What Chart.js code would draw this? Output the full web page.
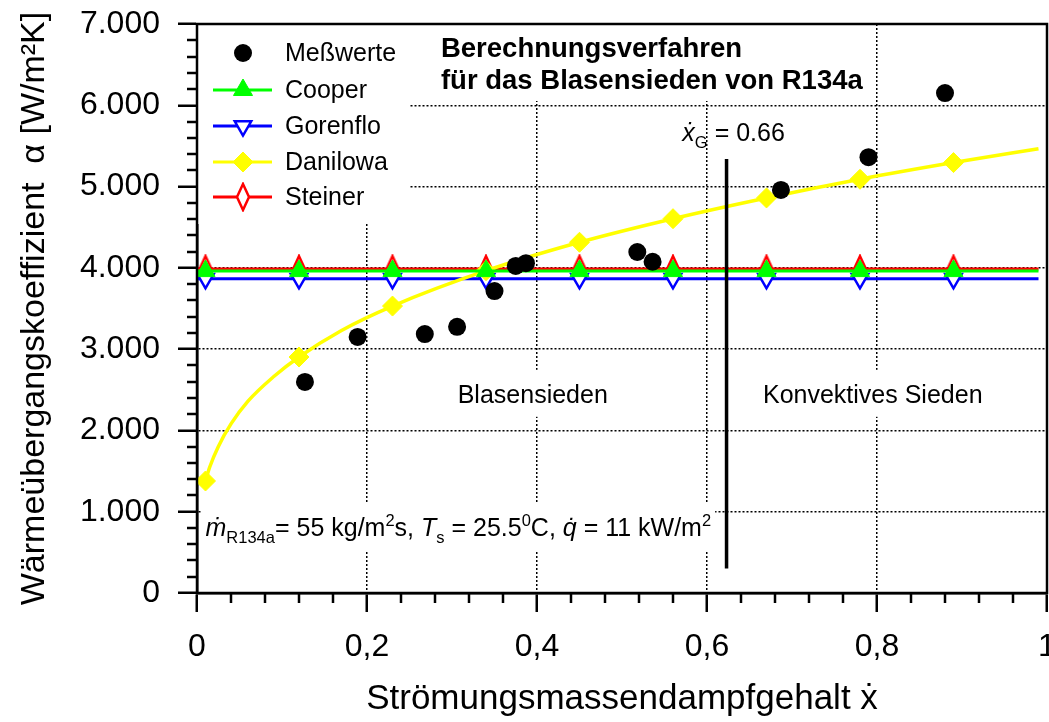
<!DOCTYPE html>
<html>
<head>
<meta charset="utf-8">
<script src="https://cdn.jsdelivr.net/npm/chart.js@4.4.0/dist/chart.umd.min.js"></script>
<style>
  html, body { margin: 0; padding: 0; background: #fff; }
  #wrap { width: 1049px; height: 722px; }
</style>
</head>
<body>
<div id="wrap"><canvas id="chart" width="1049" height="722"></canvas></div>
<script>
// Measured values
const messX = [0.127, 0.189, 0.268, 0.306, 0.350, 0.375, 0.387, 0.518, 0.536, 0.687, 0.790, 0.880];
const messY = [2596, 3150, 3185, 3275, 3715, 4023, 4058, 4195, 4075, 4958, 5362, 6150];

// Correlations, marker positions
const modelX = [0.01, 0.12, 0.23, 0.34, 0.45, 0.56, 0.67, 0.78, 0.89];
const cooperY = [3960, 3960, 3960, 3960, 3960, 3960, 3960, 3960, 3960];
const gorenfloY = [3865, 3865, 3865, 3865, 3865, 3865, 3865, 3865, 3865];
const steinerY = [3985, 3985, 3985, 3985, 3985, 3985, 3985, 3985, 3985];
const danilowaY = [1378, 2903, 3530, 3965, 4315, 4605, 4860, 5090, 5295];

// where the straight correlation lines start and end
const lineStartX = 0;
const lineEndX = 0.99;

// Danilowa fit curve
const danilowaCurveX = [0.01, 0.015, 0.025, 0.04, 0.06, 0.09, 0.12, 0.17, 0.23, 0.34, 0.45, 0.56, 0.67, 0.78, 0.89, 0.99];
const danilowaCurveY = [1378, 1550, 1800, 2080, 2360, 2660, 2903, 3230, 3530, 3965, 4315, 4605, 4860, 5090, 5295, 5465];

// transition line x_G
const xGLineX = [0.623, 0.623];
const xGLineY = [5340, 300];

const xTickLabels = ['0', '0,2', '0,4', '0,6', '0,8', '1'];
const yTickLabels = ['0', '1.000', '2.000', '3.000', '4.000', '5.000', '6.000', '7.000'];

const FONT = '"Liberation Sans", Arial, Helvetica, sans-serif';

function pts(xs, ys) {
  return xs.map((x, i) => ({ x: x, y: ys[i] }));
}

// constant line with markers, plain ends
function withEnds(xs, ys) {
  return [{ x: lineStartX, y: ys[0] }].concat(pts(xs, ys), [{ x: lineEndX, y: ys[ys.length - 1] }]);
}
function endRadius(r) {
  return [0].concat(modelX.map(() => r), [0]);
}

// narrow open diamond for Steiner
const steinerMark = document.createElement('canvas');
steinerMark.width = 16;
steinerMark.height = 30;
(function () {
  const c = steinerMark.getContext('2d');
  c.beginPath();
  c.moveTo(8, 2);
  c.lineTo(14, 15);
  c.lineTo(8, 28);
  c.lineTo(2, 15);
  c.closePath();
  c.fillStyle = '#fff';
  c.fill();
  c.lineWidth = 2.5;
  c.strokeStyle = '#ff0000';
  c.stroke();
})();

const datasets = [
  {
    label: 'Meßwerte', data: pts(messX, messY), showLine: false,
    pointStyle: 'circle', pointRadius: 9, backgroundColor: '#000', borderColor: '#000', borderWidth: 0,
    order: 0, legend: true, legendLine: false
  },
  {
    label: 'xG', data: pts(xGLineX, xGLineY), showLine: true,
    borderColor: '#000', borderWidth: 3.5, pointRadius: 0, order: 1
  },
  {
    label: 'Cooper', data: withEnds(modelX, cooperY), showLine: true,
    borderColor: '#00ff00', backgroundColor: '#00ff00', borderWidth: 3,
    pointStyle: 'triangle', pointRadius: endRadius(11), pointBackgroundColor: '#00ff00',
    pointBorderColor: '#00ff00', pointBorderWidth: 1, order: 2, legend: true, legendLine: true
  },
  {
    label: 'Gorenflo', data: withEnds(modelX, gorenfloY), showLine: true,
    borderColor: '#0000ff', backgroundColor: '#fff', borderWidth: 3,
    pointStyle: 'triangle', pointRotation: 180, pointRadius: endRadius(9.5), pointBackgroundColor: '#fff',
    pointBorderColor: '#0000ff', pointBorderWidth: 2.5, order: 5, legend: true, legendLine: true
  },
  {
    label: 'Danilowa', data: pts(modelX, danilowaY), showLine: false,
    borderColor: '#ffff00', backgroundColor: '#ffff00',
    pointStyle: 'rectRot', pointRadius: 10, pointBackgroundColor: '#ffff00',
    pointBorderColor: '#ffff00', pointBorderWidth: 1, order: 3, legend: true, legendLine: true
  },
  {
    label: 'Danilowa Kurve', data: pts(danilowaCurveX, danilowaCurveY), showLine: true,
    borderColor: '#ffff00', borderWidth: 3.5, pointRadius: 0,
    cubicInterpolationMode: 'monotone', order: 4
  },
  {
    label: 'Steiner', data: withEnds(modelX, steinerY), showLine: true,
    borderColor: '#ff0000', backgroundColor: '#fff', borderWidth: 3,
    pointStyle: endRadius(1).map(r => r ? steinerMark : 'circle'), pointRadius: endRadius(10),
    order: 6, legend: true, legendLine: true
  }
];

// white boxes behind legend and title (cover the dotted grid)
const whiteBoxes = [
  [197, 24, 212, 200],
  [410, 24, 462, 77]
];

function drawRuns(ctx, runs, x, y, size, measureOnly) {
  let cx = x;
  runs.forEach(r => {
    const small = r.sub || r.sup;
    const s = small ? size * 0.66 : size;
    ctx.font = (r.italic ? 'italic ' : '') + (r.bold ? 'bold ' : '') + s + 'px ' + FONT;
    const dy = r.sub ? size * 0.26 : (r.sup ? -size * 0.4 : 0);
    if (!measureOnly) ctx.fillText(r.t, cx, y + dy);
    cx += ctx.measureText(r.t).width;
  });
  return cx - x;
}

// text annotations, anchored in data coordinates
const notes = [
  { x: 0.287, y: 6594, align: 'left', size: 27.5, runs: [{ t: 'Berechnungsverfahren', bold: true }] },
  { x: 0.287, y: 6200, align: 'left', size: 27.5, runs: [{ t: 'für das Blasensieden von R134a', bold: true }] },
  { x: 0.571, y: 5560, align: 'left', size: 25, runs: [{ t: 'ẋ', italic: true }, { t: 'G', sub: true }, { t: ' = 0.66' }] },
  { x: 0.395, y: 2340, align: 'center', size: 25, box: true, runs: [{ t: 'Blasensieden' }] },
  { x: 0.795, y: 2340, align: 'center', size: 25, box: true, runs: [{ t: 'Konvektives Sieden' }] },
  { x: 0.01, y: 700, align: 'left', size: 25, box: true, runs: [
    { t: 'ṁ', italic: true }, { t: 'R134a', sub: true }, { t: '= 55 kg/m' }, { t: '2', sup: true },
    { t: 's, ' }, { t: 'T', italic: true }, { t: 's', sub: true }, { t: ' = 25.5' }, { t: '0', sup: true },
    { t: 'C, ' }, { t: 'q̇', italic: true }, { t: ' = 11 kW/m' }, { t: '2', sup: true }
  ] }
];

const decorPlugin = {
  id: 'decor',
  // let the plot run up to the right edge, the last tick label is cut off there like in the original
  afterLayout(chart) {
    const area = chart.chartArea;
    const xs = chart.scales.x;
    area.right = chart.width - 2;
    area.width = area.right - area.left;
    xs.right = area.right;
    xs.width = area.right - xs.left;
    xs.configure();
  },
  beforeDatasetsDraw(chart) {
    const ctx = chart.ctx;
    const xs = chart.scales.x, ys = chart.scales.y;
    ctx.save();
    ctx.fillStyle = '#fff';
    whiteBoxes.forEach(b => ctx.fillRect(b[0], b[1], b[2], b[3]));
    notes.filter(n => n.box).forEach(n => {
      const w = drawRuns(ctx, n.runs, 0, 0, n.size, true);
      const px = xs.getPixelForValue(n.x), py = ys.getPixelForValue(n.y);
      const left = n.align === 'center' ? px - w / 2 : px;
      ctx.fillStyle = '#fff';
      ctx.fillRect(left - 4, py - n.size - 8, w + 8, n.size + 22);
    });
    ctx.restore();
  },
  afterDatasetsDraw(chart) {
    const ctx = chart.ctx;
    const xs = chart.scales.x, ys = chart.scales.y;
    ctx.save();
    ctx.fillStyle = '#000';
    ctx.textBaseline = 'alphabetic';
    ctx.textAlign = 'left';
    notes.forEach(n => {
      const w = drawRuns(ctx, n.runs, 0, 0, n.size, true);
      const px = xs.getPixelForValue(n.x), py = ys.getPixelForValue(n.y);
      const left = n.align === 'center' ? px - w / 2 : px;
      drawRuns(ctx, n.runs, left, py, n.size, false);
    });

    // legend
    const rowY = [53, 90, 126, 162, 197];
    let row = 0;
    chart.data.datasets.filter(d => d.legend).forEach(d => {
      const y = rowY[row++];
      if (d.legendLine) {
        ctx.strokeStyle = d.borderColor;
        ctx.lineWidth = 3;
        ctx.beginPath();
        ctx.moveTo(213, y);
        ctx.lineTo(272, y);
        ctx.stroke();
      }
      const style = Array.isArray(d.pointStyle) ? d.pointStyle[1] : d.pointStyle;
      const r = Array.isArray(d.pointRadius) ? d.pointRadius[1] : d.pointRadius;
      ctx.fillStyle = d.pointBackgroundColor || d.backgroundColor;
      ctx.strokeStyle = d.pointBorderColor || d.borderColor;
      ctx.lineWidth = d.pointBorderWidth || 0;
      Chart.helpers.drawPoint(ctx, { pointStyle: style, radius: r, rotation: d.pointRotation || 0, borderWidth: d.pointBorderWidth || 0 }, 243, y);
      ctx.fillStyle = '#000';
      ctx.font = '25px ' + FONT;
      ctx.textBaseline = 'middle';
      ctx.fillText(d.label, 285, y + 1);
      ctx.textBaseline = 'alphabetic';
    });
    ctx.restore();
  },
  afterDraw(chart) {
    const ctx = chart.ctx;
    const area = chart.chartArea;
    const xs = chart.scales.x, ys = chart.scales.y;
    ctx.save();
    ctx.strokeStyle = '#000';
    ctx.lineWidth = 2.5;
    ctx.strokeRect(area.left, area.top, area.right - area.left, area.bottom - area.top);
    // minor ticks
    ctx.beginPath();
    for (let i = 1; i < 25; i++) {
      if (i % 5 === 0) continue;
      const px = Math.round(xs.getPixelForValue(i * 0.04));
      ctx.moveTo(px, area.bottom);
      ctx.lineTo(px, area.bottom + 10);
    }
    for (let i = 1; i < 35; i++) {
      if (i % 5 === 0) continue;
      const py = Math.round(ys.getPixelForValue(i * 200));
      ctx.moveTo(area.left, py);
      ctx.lineTo(area.left - 10, py);
    }
    ctx.stroke();
    ctx.restore();
  }
};

new Chart(document.getElementById('chart'), {
  type: 'scatter',
  data: { datasets: datasets },
  options: {
    responsive: false,
    animation: false,
    events: [],
    layout: { padding: { left: 0, right: 2, top: 24, bottom: 0 } },
    plugins: { legend: { display: false }, tooltip: { enabled: false } },
    scales: {
      x: {
        type: 'linear', min: 0, max: 1,
        ticks: {
          stepSize: 0.2, autoSkip: false, maxRotation: 0, padding: 16,
          color: '#000', font: { size: 32, family: FONT },
          callback: (v, i) => xTickLabels[i]
        },
        grid: { color: '#000', lineWidth: 1.5, borderDash: [2, 2], tickLength: 19, tickWidth: 2.5, tickColor: '#000' },
        border: { display: true, color: '#000', width: 2.5, dash: [2, 2] },
        title: {
          display: true, text: 'Strömungsmassendampfgehalt ẋ', color: '#000',
          font: { size: 35, family: FONT }, padding: { top: 0, bottom: 2 }
        },
        afterFit: s => { s.height = 129; }
      },
      y: {
        min: 0, max: 7000,
        ticks: {
          stepSize: 1000, padding: 18,
          color: '#000', font: { size: 32, family: FONT },
          callback: (v, i) => yTickLabels[i]
        },
        grid: { color: '#000', lineWidth: 1.5, borderDash: [2, 2], tickLength: 19, tickWidth: 2.5, tickColor: '#000' },
        border: { display: true, color: '#000', width: 2.5, dash: [2, 2] },
        title: {
          display: true, text: 'Wärmeübergangskoeffizient  α [W/m²K]', color: '#000',
          font: { size: 34, family: FONT }, padding: { top: 14, bottom: 0 }
        },
        afterFit: s => { s.width = 197; s.paddingTop = 0; s.paddingBottom = 0; }
      }
    }
  },
  plugins: [decorPlugin]
});
</script>
</body>
</html>
